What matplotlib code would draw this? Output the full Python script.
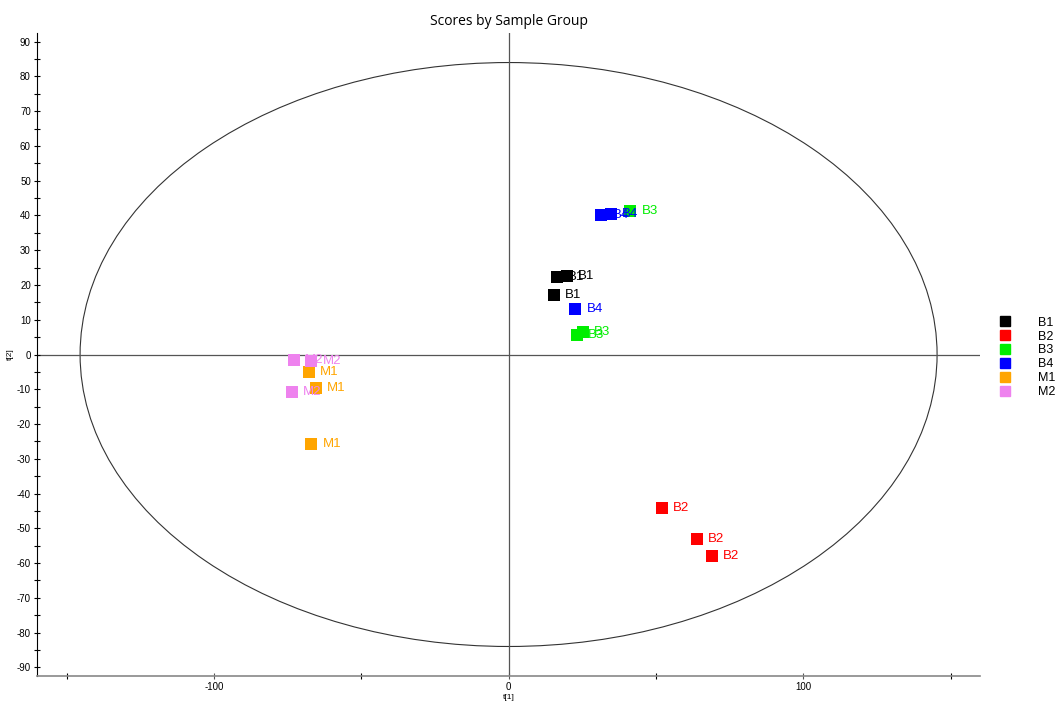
import matplotlib
matplotlib.use("Agg")
import matplotlib.pyplot as plt
from matplotlib.patches import Ellipse
from matplotlib.lines import Line2D
from matplotlib.ticker import MultipleLocator

plt.rcParams['font.family'] = ['Liberation Sans', 'DejaVu Sans']
plt.rcParams['axes.unicode_minus'] = False

groups = ["B1", "B2", "B3", "B4", "M1", "M2"]
colors = ["#000000", "#ff0000", "#00ee00", "#0000ff", "#ffa500", "#ee82ee"]

b1_x = [16.3, 19.7, 15.3]
b1_y = [22.3, 22.5, 17.2]
b2_x = [52.1, 63.8, 69.0]
b2_y = [-44.1, -53.0, -58.0]
b3_x = [41.3, 25.2, 23.2]
b3_y = [41.4, 6.6, 5.5]
b4_x = [31.5, 34.6, 22.7]
b4_y = [40.1, 40.4, 13.2]
m1_x = [-67.7, -65.4, -66.9]
m1_y = [-5.1, -9.7, -25.7]
m2_x = [-72.9, -66.9, -73.6]
m2_y = [-1.5, -2.0, -10.8]

xs = [b1_x, b2_x, b3_x, b4_x, m1_x, m2_x]
ys = [b1_y, b2_y, b3_y, b4_y, m1_y, m2_y]

ellipse_a = 145.4
ellipse_b = 84.0

fig = plt.figure(figsize=(10.59, 7.02), dpi=100)
ax = fig.add_axes([0.035, 0.037, 0.8905, 0.916])
ax.set_xlim(-160, 160)
ax.set_ylim(-92.5, 92.5)

ax.add_patch(Ellipse((0, 0), 2 * ellipse_a, 2 * ellipse_b, fill=False,
                     edgecolor="#333333", linewidth=0.8))
ax.axhline(0, color="#555555", linewidth=0.9, zorder=1)
ax.axvline(0, color="#555555", linewidth=0.9, zorder=1)

for g, c, x, y in zip(groups, colors, xs, ys):
    ax.scatter(x, y, marker='s', s=80, color=c, zorder=3, linewidths=0)
    for xi, yi in zip(x, y):
        ax.annotate(g, (xi, yi), xytext=(8, 0), textcoords='offset points',
                    color=c, fontsize=9.5, va='center', ha='left', zorder=4)

ax.spines['top'].set_visible(False)
ax.spines['right'].set_visible(False)
ax.spines['left'].set_color('#000000')
ax.spines['bottom'].set_color('#888888')
ax.spines['bottom'].set_linewidth(1.2)

ax.xaxis.set_major_locator(MultipleLocator(100))
ax.xaxis.set_minor_locator(MultipleLocator(50))
ax.yaxis.set_major_locator(MultipleLocator(10))
ax.yaxis.set_minor_locator(MultipleLocator(5))
ax.set_yticks(list(range(-90, 91, 10)))
ax.tick_params(axis='both', which='major', direction='inout', length=5, width=0.8,
               labelsize=7, pad=2)
ax.tick_params(axis='both', which='minor', direction='inout', length=4, width=0.8)
ax.tick_params(axis='x', colors='#555555', labelcolor='black')
ax.set_xlabel("t[1]", fontsize=6, labelpad=1)
ax.set_ylabel("t[2]", fontsize=6, labelpad=2)

ax.set_title("Scores by Sample Group", fontsize=10, family=['Open Sans', 'DejaVu Sans'], pad=6)

handles = [Line2D([], [], marker='s', linestyle='none', color=c, markersize=7) for c in colors]
fig.legend(handles, groups, loc='upper left', bbox_to_anchor=(0.9325, 0.556),
           frameon=False, fontsize=9, handletextpad=1.6, labelspacing=0.15,
           borderaxespad=0)

fig.savefig("out.png", dpi=100)
